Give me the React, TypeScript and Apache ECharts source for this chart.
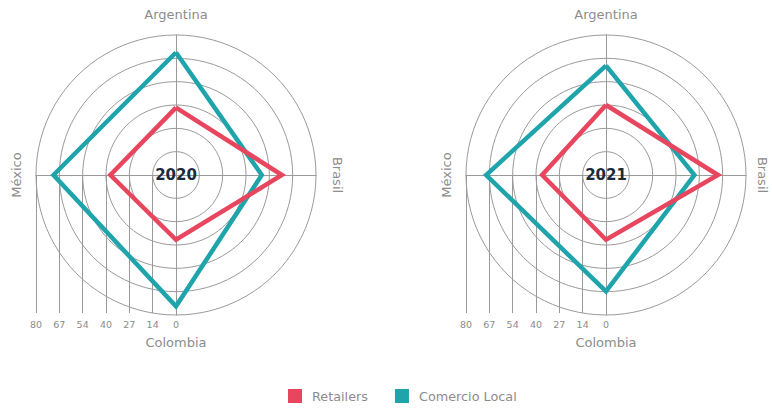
import React, { useEffect, useRef } from "react";
import * as echarts from "echarts";

const indicators = ["Argentina", "México", "Colombia", "Brasil"];
const years = ["2020", "2021"];
const seriesNames = ["Retailers", "Comercio Local"];
const retailers2020 = [38.5, 37.5, 37, 60.5];
const comercio2020 = [70, 70, 75, 49];
const retailers2021 = [40, 36.5, 37, 64];
const comercio2021 = [62.5, 68.5, 66.5, 50.5];
const tickLabels = ["0", "14", "27", "40", "54", "67", "80"];
const maxValue = 80;

const RED = "#e8465f";
const TEAL = "#1ea4aa";
const GRID = "#9a9a9a";
const TXT = "#8c8c8c";
const FONT = "'DejaVu Sans', 'Noto Sans', sans-serif";

const centers: [number, number][] = [
  [176, 175],
  [606, 175],
];
const R = 140;
const W = 772;

export default function App() {
  const ref = useRef<HTMLDivElement>(null);
  useEffect(() => {
    document.body.style.margin = "0";
    const chart = echarts.init(ref.current!, undefined, { renderer: "svg" });
    const splits = tickLabels.length - 1;
    const values = [
      [retailers2020, comercio2020],
      [retailers2021, comercio2021],
    ];
    const radar = centers.map((c) => ({
      center: c,
      radius: R,
      shape: "circle",
      splitNumber: splits,
      startAngle: 90,
      indicator: indicators.map((n) => ({ name: n, max: maxValue, min: 0 })),
      axisName: { show: false },
      axisLine: { lineStyle: { color: GRID, width: 1 } },
      splitLine: { lineStyle: { color: GRID, width: 1 } },
      splitArea: { show: false },
      axisTick: { show: false },
      axisLabel: { show: false },
    }));
    const series: any[] = [];
    centers.forEach((_, ri) => {
      [1, 0].forEach((si) => {
        series.push({
          type: "radar",
          name: seriesNames[si],
          radarIndex: ri,
          symbol: "none",
          z: si === 0 ? 3 : 2,
          lineStyle: { width: 4.5, color: si === 0 ? RED : TEAL, join: "miter" },
          itemStyle: { color: si === 0 ? RED : TEAL },
          data: [{ value: values[ri][si], name: seriesNames[si] }],
        });
      });
    });
    const grid = centers.map((c) => ({
      left: c[0] - R,
      top: c[1],
      width: R,
      height: R - 2,
    }));
    const xAxis = centers.map((_, i) => ({
      type: "value",
      gridIndex: i,
      min: 0,
      max: maxValue,
      interval: maxValue / splits,
      inverse: true,
      axisLine: { show: false },
      axisTick: { show: false },
      splitLine: { show: true, lineStyle: { color: GRID, width: 1 } },
      axisLabel: {
        margin: 6,
        color: TXT,
        fontSize: 9.5,
        fontFamily: FONT,
        formatter: (v: number) => tickLabels[Math.round((v * splits) / maxValue)] ?? "",
      },
    }));
    const yAxis = centers.map((_, i) => ({
      type: "value",
      gridIndex: i,
      min: 0,
      max: 1,
      show: false,
    }));
    const graphic: any[] = [];
    centers.forEach((c, i) => {
      const nameStyle = { fill: TXT, fontSize: 13, fontFamily: FONT, align: "center", verticalAlign: "middle" };
      graphic.push({ type: "text", x: c[0], y: c[1] - R - 21, style: { ...nameStyle, text: indicators[0] } });
      graphic.push({ type: "text", x: c[0] - R - 20, y: c[1], rotation: Math.PI / 2, style: { ...nameStyle, text: indicators[1] } });
      graphic.push({ type: "text", x: c[0], y: c[1] + R + 27, style: { ...nameStyle, text: indicators[2] } });
      graphic.push({ type: "text", x: Math.min(c[0] + R + 21, W - 10), y: c[1], rotation: -Math.PI / 2, style: { ...nameStyle, text: indicators[3] } });
      graphic.push({
        type: "text",
        x: c[0],
        y: c[1],
        z: 10,
        style: { text: years[i], fill: "#1b2a3a", fontSize: 15, fontWeight: "bold", fontFamily: FONT, align: "center", verticalAlign: "middle" },
      });
    });
    chart.setOption({
      animation: false,
      backgroundColor: "#ffffff",
      radar,
      grid,
      xAxis,
      yAxis,
      series,
      graphic,
      legend: {
        data: seriesNames,
        top: 389,
        left: 288,
        padding: 0,
        icon: "rect",
        itemWidth: 14,
        itemHeight: 14,
        itemGap: 27,
        textStyle: { color: TXT, fontSize: 12.8, fontFamily: FONT, padding: [0, 0, 0, 5] },
      },
    });
    return () => chart.dispose();
  }, []);
  return <div ref={ref} style={{ width: 772, height: 408 }} />;
}
